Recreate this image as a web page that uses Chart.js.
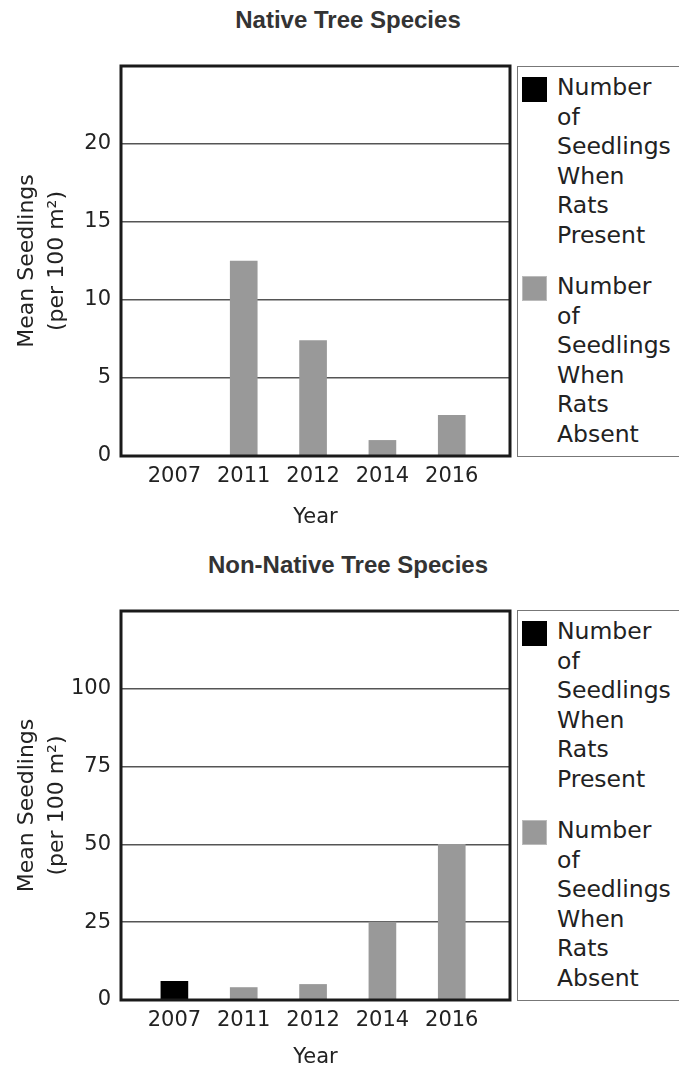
<!DOCTYPE html>
<html>
<head>
<meta charset="utf-8">
<script src="https://cdn.jsdelivr.net/npm/chart.js@4.4.1/dist/chart.umd.min.js"></script>
<style>
  html, body { margin: 0; padding: 0; background: #fff; }
  body { width: 679px; height: 1070px; position: relative; overflow: hidden; font-family: "DejaVu Sans", Verdana, sans-serif; }
  .panel { position: absolute; left: 0; width: 679px; }
  .title {
    position: absolute; left: 0; width: 696px; text-align: center;
    font-family: "Liberation Sans", Arial, sans-serif; font-weight: bold; font-size: 24px;
    color: #333; line-height: 26px;
  }
  .legend {
    position: absolute; left: 517px; width: 175px; height: 391px;
    border: 1.5px solid #777; box-sizing: border-box; background: #fff;
    font-size: 23.5px; line-height: 29.5px; color: #222;
  }
  .item { position: relative; padding-left: 39px; margin-top: 6px; }
  .item + .item { margin-top: 22px; }
  .swatch { position: absolute; left: 4px; top: 4px; width: 25px; height: 25px; box-sizing: border-box; }
</style>
</head>
<body>

<div class="title" style="top:7px">Native Tree Species</div>
<div class="panel" style="top:0;height:530px"><canvas id="native"></canvas></div>
<div class="legend" id="leg1" style="top:66px"></div>

<div class="title" style="top:552px">Non-Native Tree Species</div>
<div class="panel" style="top:545px;height:525px"><canvas id="nonnative"></canvas></div>
<div class="legend" id="leg2" style="top:610px"></div>

<script>
// ── Data ──
const years = ['2007', '2011', '2012', '2014', '2016'];
const seriesNames = ['Number of Seedlings When Rats Present', 'Number of Seedlings When Rats Absent'];
const seriesColors = ['#000000', '#999999'];

const nativePresent = [null, null, null, null, null];
const nativeAbsent  = [null, 12.5, 7.4, 1.0, 2.6];
const nativeTicks   = [0, 5, 10, 15, 20];

const nonNativePresent = [6, null, null, null, null];
const nonNativeAbsent  = [null, 4, 5, 25, 50];
const nonNativeTicks   = [0, 25, 50, 75, 100];

const font = 'DejaVu Sans';

// frame round the plot area
const framePlugin = {
  id: 'frame',
  afterDraw(chart) {
    const a = chart.chartArea, c = chart.ctx;
    c.save();
    c.strokeStyle = '#1a1a1a';
    c.lineWidth = 3;
    c.strokeRect(a.left, a.top, a.right - a.left, a.bottom - a.top);
    c.restore();
  }
};

function points(values) {
  return values.map((v, i) => v === null ? null : { x: i, y: v }).filter(p => p);
}

function makeChart(id, present, absent, ticks, yMax, xHeight) {
  return new Chart(document.getElementById(id), {
    type: 'bar',
    data: {
      datasets: [present, absent].map((vals, k) => ({
        label: seriesNames[k],
        data: points(vals),
        backgroundColor: seriesColors[k],
        borderWidth: 0,
        barThickness: 27,
        grouped: false
      }))
    },
    options: {
      responsive: true,
      maintainAspectRatio: false,
      animation: false,
      layout: { padding: { left: 0, right: 169, top: 66, bottom: 0 } },
      plugins: {
        legend: { display: false },
        tooltip: { enabled: false }
      },
      scales: {
        x: {
          type: 'linear',
          offset: false,
          min: -0.77,
          max: 4.84,
          afterBuildTicks: s => { s.ticks = years.map((_, i) => ({ value: i })); },
          afterFit: s => { s.height = xHeight; },
          grid: { display: false, drawTicks: false },
          border: { display: false },
          ticks: {
            color: '#222',
            padding: 8,
            font: { family: font, size: 21 },
            callback: v => years[v]
          },
          title: {
            display: true,
            text: 'Year',
            color: '#222',
            font: { family: font, size: 21 },
            padding: { top: 0, bottom: 0 }
          }
        },
        y: {
          min: 0,
          max: yMax,
          afterBuildTicks: s => { s.ticks = ticks.map(v => ({ value: v })); },
          afterFit: s => { s.width = 121; },
          grid: { color: '#555', lineWidth: 1.5, drawTicks: false },
          border: { display: false },
          ticks: {
            color: '#222',
            padding: 10,
            font: { family: font, size: 21 }
          },
          title: {
            display: true,
            text: ['Mean Seedlings', '(per 100 m²)'],
            color: '#222',
            font: { family: font, size: 22, lineHeight: 1.36 },
            padding: { top: 12, bottom: 0 }
          }
        }
      }
    },
    plugins: [framePlugin]
  });
}

function buildLegend(id) {
  const box = document.getElementById(id);
  seriesNames.forEach((name, k) => {
    const item = document.createElement('div');
    item.className = 'item';
    const sw = document.createElement('span');
    sw.className = 'swatch';
    sw.style.background = seriesColors[k];
    sw.style.border = '1px solid ' + (k === 0 ? '#000' : '#bbb');
    item.appendChild(sw);
    item.insertAdjacentHTML('beforeend', name.split(' ').join('<br>'));
    box.appendChild(item);
  });
}

makeChart('native', nativePresent, nativeAbsent, nativeTicks, 25, 74);
makeChart('nonnative', nonNativePresent, nonNativeAbsent, nonNativeTicks, 125, 70);
buildLegend('leg1');
buildLegend('leg2');
</script>
</body>
</html>
